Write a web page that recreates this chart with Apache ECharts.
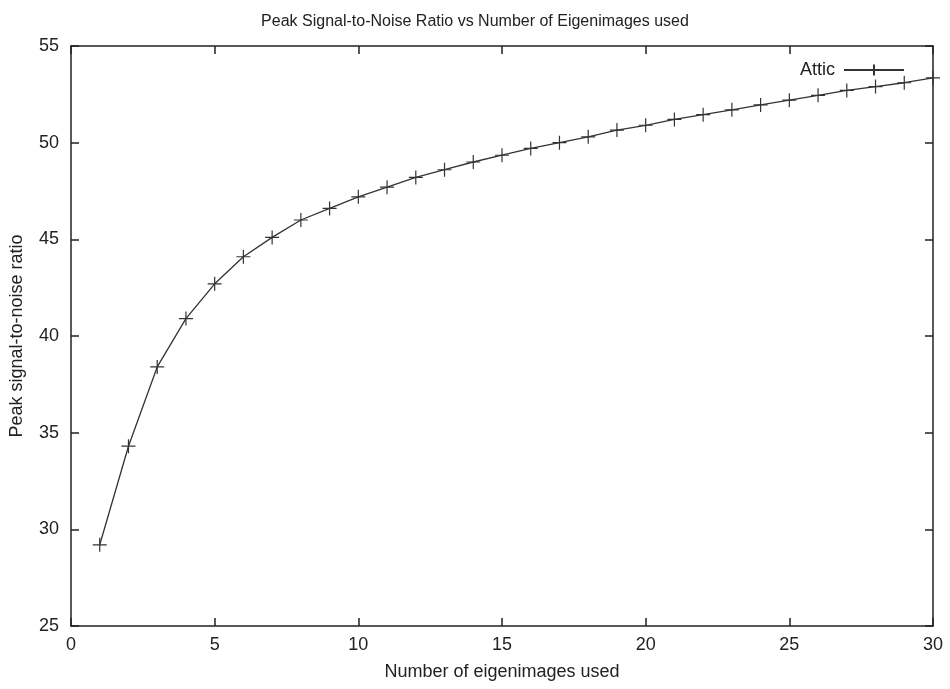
<!DOCTYPE html>
<html>
<head>
<meta charset="utf-8">
<script src="https://cdn.jsdelivr.net/npm/echarts@6/dist/echarts.min.js"></script>
<style>html,body{margin:0;padding:0;background:#fff}#c{width:950px;height:689px}</style>
</head>
<body>
<div id="c"></div>
<script>
const eigenCounts = [1,2,3,4,5,6,7,8,9,10,11,12,13,14,15,16,17,18,19,20,21,22,23,24,25,26,27,28,29,30];
const psnrValues = [29.2,34.3,38.4,40.9,42.7,44.1,45.1,46.0,46.6,47.2,47.7,48.2,48.6,49.0,49.35,49.7,50.0,50.3,50.65,50.9,51.2,51.45,51.7,51.95,52.2,52.45,52.7,52.9,53.1,53.35];
const xTicks = [0,5,10,15,20,25,30];
const yTicks = [25,30,35,40,45,50,55];
const seriesName = 'Attic';

const font = 'Liberation Sans, Arial, sans-serif';
const plus = 'path://M0,6 L12,6 M6,0 L6,12';
const chart = echarts.init(document.getElementById('c'), null, {renderer: 'canvas'});
const axisCommon = {
  type: 'value',
  axisLine: {show: true, onZero: false, lineStyle: {color: '#222', width: 1.5}},
  axisTick: {show: true, inside: true, length: 8, lineStyle: {color: '#222', width: 1.5}},
  splitLine: {show: false}
};
chart.setOption({
  animation: false,
  backgroundColor: '#fff',
  title: {
    text: 'Peak Signal-to-Noise Ratio vs Number of Eigenimages used',
    left: 'center', top: 9,
    textStyle: {fontFamily: font, fontSize: 16, fontWeight: 'normal', color: '#222'}
  },
  legend: {
    data: [seriesName],
    right: 40, top: 56,
    align: 'right',
    itemWidth: 60, itemHeight: 14, itemGap: 10,
    textStyle: {fontFamily: font, fontSize: 18, color: '#222', padding: [0, 4, 0, 0]}
  },
  grid: {left: 71, right: 17, top: 46, bottom: 63, containLabel: false},
  xAxis: [
    Object.assign({}, axisCommon, {
      min: xTicks[0], max: xTicks[xTicks.length-1], interval: 5,
      position: 'bottom',
      name: 'Number of eigenimages used', nameLocation: 'middle', nameGap: 37,
      nameTextStyle: {fontFamily: font, fontSize: 18, color: '#222'},
      axisLabel: {fontFamily: font, fontSize: 18, color: '#222', margin: 10}
    }),
    Object.assign({}, axisCommon, {
      min: xTicks[0], max: xTicks[xTicks.length-1], interval: 5,
      position: 'top', axisLabel: {show: false}
    })
  ],
  yAxis: [
    Object.assign({}, axisCommon, {
      min: yTicks[0], max: yTicks[yTicks.length-1], interval: 5,
      position: 'left',
      name: 'Peak signal-to-noise ratio', nameLocation: 'middle', nameGap: 45,
      nameTextStyle: {fontFamily: font, fontSize: 18, color: '#222'},
      axisLabel: {fontFamily: font, fontSize: 18, color: '#222', margin: 12}
    }),
    Object.assign({}, axisCommon, {
      min: yTicks[0], max: yTicks[yTicks.length-1], interval: 5,
      position: 'right', axisLabel: {show: false}
    })
  ],
  series: [{
    name: seriesName,
    type: 'line',
    xAxisIndex: 0, yAxisIndex: 0,
    data: eigenCounts.map((x, i) => [x, psnrValues[i]]),
    symbol: plus,
    symbolSize: 14,
    showAllSymbol: true,
    smooth: false,
    lineStyle: {color: '#333', width: 1.3},
    itemStyle: {color: 'rgba(0,0,0,0)', borderColor: '#333', borderWidth: 1.2}
  }]
});
</script>
</body>
</html>
